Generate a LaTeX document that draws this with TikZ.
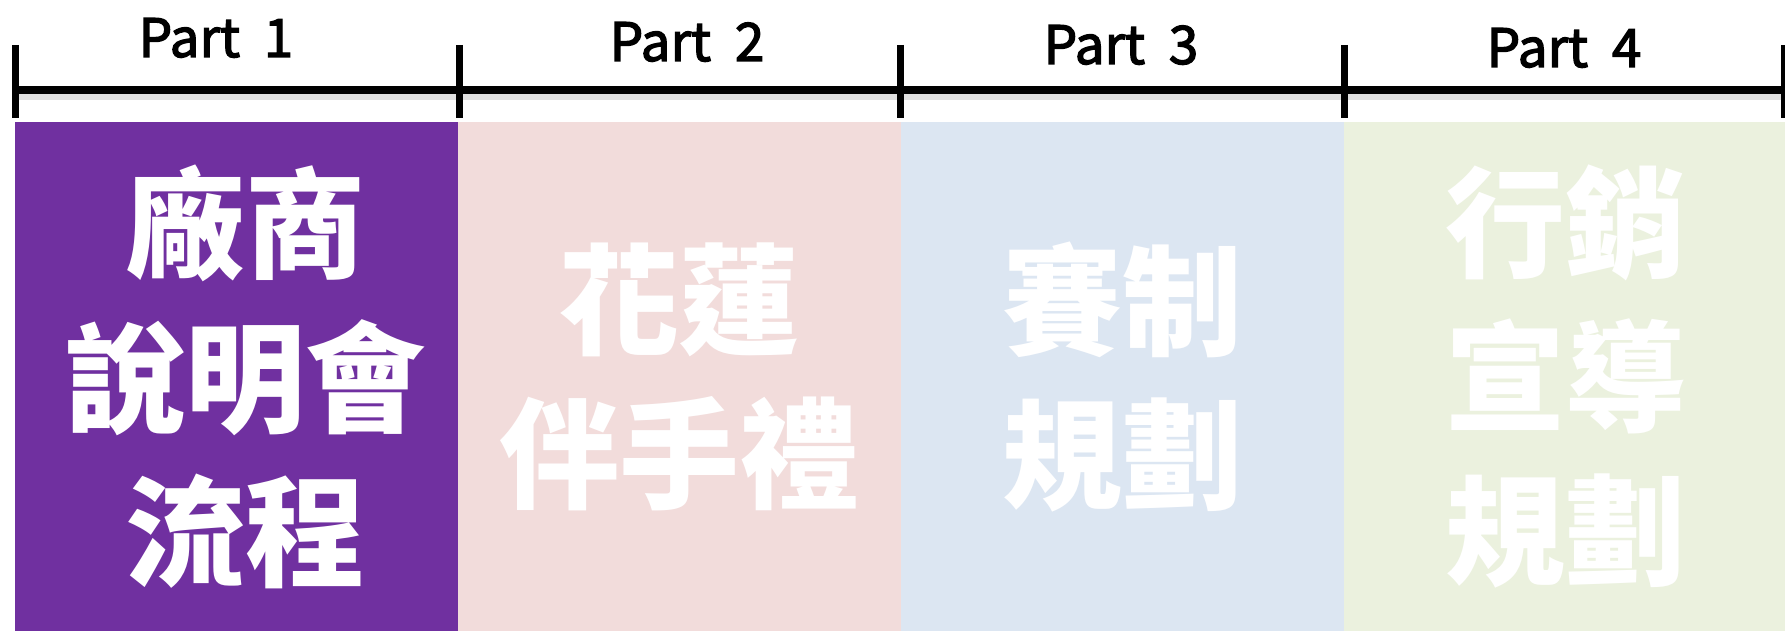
\documentclass[tikz,border=0pt]{standalone}
\usepackage{fontspec}
\setmainfont{Noto Sans CJK TC}
\newfontfamily\partfont[FakeBold=2.5]{Noto Sans CJK TC}
\usetikzlibrary{positioning, shadows}
\definecolor{StagePurple}{HTML}{7030A0}
\definecolor{StagePink}{HTML}{F2DCDB}
\definecolor{StageBlue}{HTML}{DCE6F2}
\definecolor{StageGreen}{HTML}{EBF1DE}
\tikzstyle{Stage} = [
	rectangle, inner sep=0pt, outer sep=0pt,
	minimum width=443pt, minimum height=509pt,
	align=center, text=white,
	font=\fontsize{120}{154}\selectfont\bfseries,
	drop shadow={shadow xshift=2pt, shadow yshift=-2pt, opacity=0.35}
	]
\tikzstyle{Label} = [
	anchor=base, inner sep=0pt,
	font=\partfont\fontsize{53}{60}\selectfont
	]
\tikzstyle{Tick} = [line width=7pt]

\begin{document}
\begin{tikzpicture}[x=1pt, y=-1pt]
	\useasboundingbox (0,0) rectangle (1785,631);
	%nodes:
		\node [Stage, fill=StagePurple, anchor=north west] (1) at (15,122) {\hspace*{18pt}廠商\\\hspace*{18pt}說明會\\\hspace*{18pt}流程};
		\node [Stage, fill=StagePink, right =0pt of 1] (2) {花蓮\\伴手禮};
		\node [Stage, fill=StageBlue, right =0pt of 2] (3) {賽制\\規劃};
		\node [Stage, fill=StageGreen, right =0pt of 3] (4) {行銷\\宣導\\規劃};
		\node [Label] (l1) at (216,57) {Part\hspace{0.45em}1};
		\node [Label] (l2) at (687,61) {Part\hspace{0.45em}2};
		\node [Label] (l3) at (1121,64) {Part\hspace{0.45em}3};
		\node [Label] (l4) at (1564,67) {Part\hspace{0.45em}4};
	%timeline:
		\coordinate (t0) at (15,90);
		\coordinate (t1) at (459,90);
		\coordinate (t2) at (900,90);
		\coordinate (t3) at (1344,90);
		\coordinate (t4) at (1784,90);
		\draw[line width=6pt, black!12] ([yshift=-7pt]t0) -- ([yshift=-7pt]t4);
		\draw[line width=8pt] (t0) -- (t4);
		\foreach \t in {t0, t1, t2, t3, t4}
			\draw[Tick] ([yshift=45pt]\t) -- ([yshift=-28pt]\t);
\end{tikzpicture}
\end{document}
